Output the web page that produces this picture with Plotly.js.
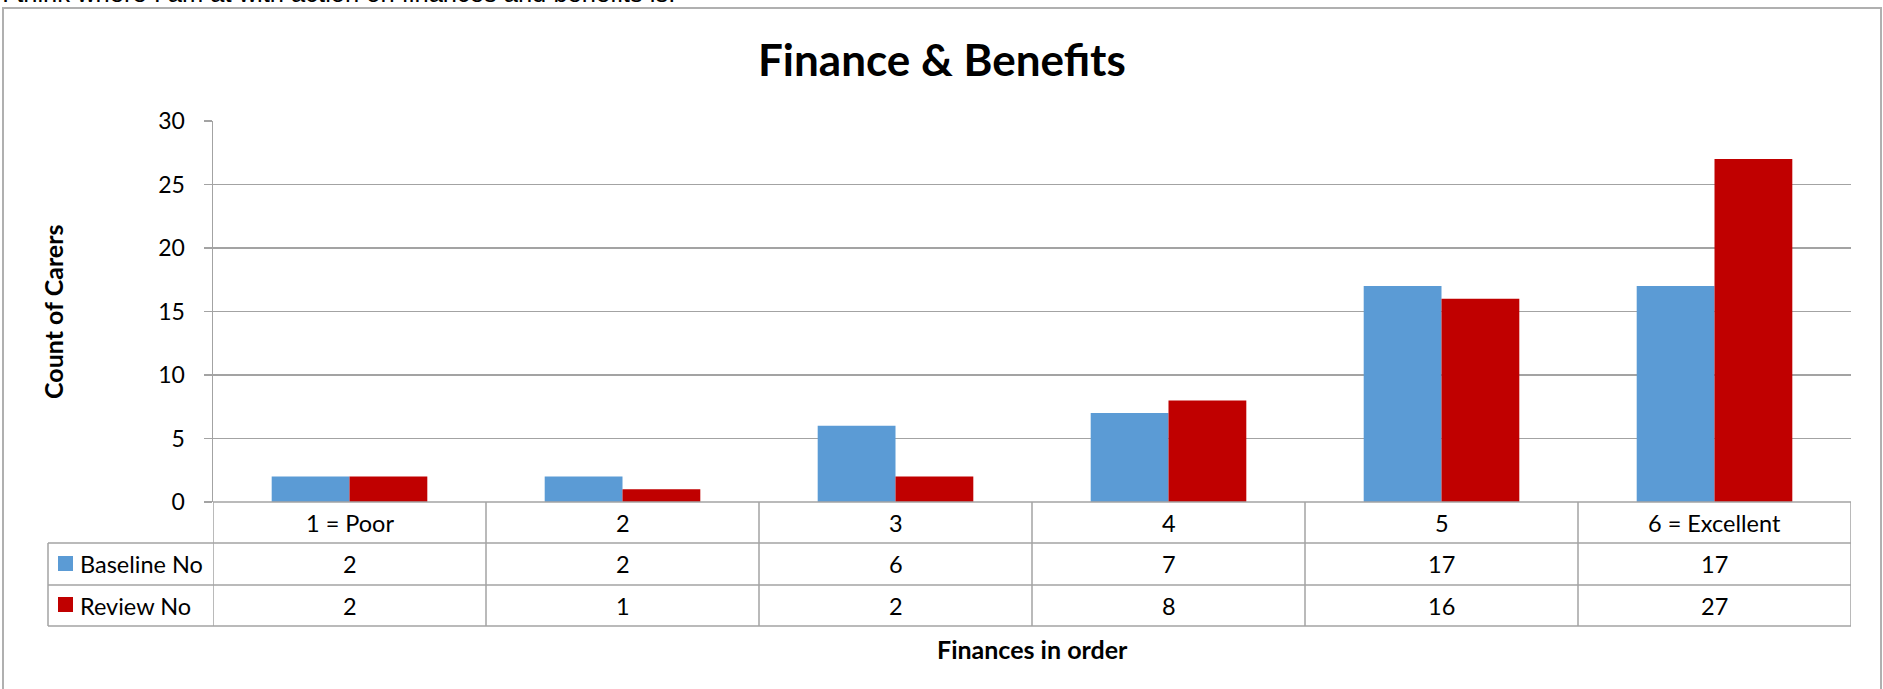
<!DOCTYPE html>
<html>
<head>
<meta charset="utf-8">
<script src="https://cdn.plot.ly/plotly-3.0.1.min.js"></script>
<style>html,body{margin:0;padding:0;background:#fff;}#chart{width:1883px;height:689px;}</style>
</head>
<body>
<div id="chart"></div>
<script>
// ---- data ----
const categories = ["1 = Poor", "2", "3", "4", "5", "6 = Excellent"];
const baselineNo = [2, 2, 6, 7, 17, 17];
const reviewNo = [2, 1, 2, 8, 16, 27];
const seriesNames = ["Baseline No", "Review No"];
const seriesColors = ["#5B9BD5", "#C00000"];
const yTicks = [0, 5, 10, 15, 20, 25, 30];

// ---- layout geometry (pixels) ----
const W = 1883, H = 689;
const PL = 213, PR = 1851, PT = 121, PB = 502;
const px2x = p => (p - PL) / (PR - PL);
const px2y = p => (PB - p) / (PB - PT);
const FONT = "Lato, 'Open Sans', sans-serif";
const lineCol = "#a3a3a3";

const rows = [PB, 543, 585, 626];
const shapes = [];
// outer frame
shapes.push({type:"rect", xref:"paper", yref:"paper", x0:px2x(3), x1:px2x(1881), y0:px2y(8), y1:px2y(740),
  line:{color:"#b0b0b0", width:2}, fillcolor:"rgba(0,0,0,0)", layer:"below"});
// table horizontal lines
shapes.push({type:"line", xref:"paper", yref:"paper", x0:0, x1:1, y0:px2y(PB), y1:px2y(PB), line:{color:lineCol, width:1.5}});
for (let i = 1; i < rows.length; i++) {
  shapes.push({type:"line", xref:"paper", yref:"paper", x0:px2x(48), x1:1, y0:px2y(rows[i]), y1:px2y(rows[i]), line:{color:lineCol, width:1.5}});
}
// legend column left edge
shapes.push({type:"line", xref:"paper", yref:"paper", x0:px2x(48), x1:px2x(48), y0:px2y(rows[1]), y1:px2y(rows[3]), line:{color:lineCol, width:1.5}});
// category column borders (through the category axis)
for (let i = 0; i <= categories.length; i++) {
  shapes.push({type:"line", xref:"x", yref:"paper", x0:i - 0.5, x1:i - 0.5, y0:px2y(PB), y1:px2y(rows[3]), line:{color:lineCol, width:1.5}});
}
// legend swatches
const swatchY = [[556, 571], [597, 612]];
seriesNames.forEach((n, i) => {
  shapes.push({type:"rect", xref:"paper", yref:"paper", x0:px2x(58), x1:px2x(73), y0:px2y(swatchY[i][0]), y1:px2y(swatchY[i][1]),
    line:{width:0}, fillcolor:seriesColors[i]});
});

const annotations = [];
const txt = (text, x, y, opts) => Object.assign({text, x, y, showarrow:false, xref:"paper", yref:"paper",
  xanchor:"center", yanchor:"middle", font:{family:FONT, size:23.5, color:"#000"}}, opts || {});
// category row and values
const rowCenters = [(rows[0] + rows[1]) / 2, (rows[1] + rows[2]) / 2, (rows[2] + rows[3]) / 2];
categories.forEach((c, i) => {
  annotations.push(txt(c, i, px2y(rowCenters[0]), {xref:"x"}));
  annotations.push(txt(String(baselineNo[i]), i, px2y(rowCenters[1]), {xref:"x"}));
  annotations.push(txt(String(reviewNo[i]), i, px2y(rowCenters[2]), {xref:"x"}));
});
// legend labels
seriesNames.forEach((n, i) => {
  annotations.push(txt(n, px2x(78), px2y(rowCenters[i + 1]), {xanchor:"left"}));
});
// y-axis title
annotations.push(txt("<b>Count of Carers</b>", px2x(53), px2y(312), {textangle:-90, font:{family:FONT, size:25, color:"#000"}}));
// x-axis title
annotations.push(txt("<b>Finances in order</b>", 0.5, px2y(649), {font:{family:FONT, size:25, color:"#000"}}));
// chart title
annotations.push(txt("<b>Finance &amp; Benefits</b>", px2x(942), px2y(59), {font:{family:FONT, size:44, color:"#000"}}));
// cropped text from the page above the chart
annotations.push(txt("I think where I am at with action on finances and benefits is:", px2x(0), px2y(9),
  {xanchor:"left", yanchor:"bottom", font:{family:"'Liberation Sans', Arial, sans-serif", size:25.5, color:"#000"}}));

const traces = [baselineNo, reviewNo].map((vals, i) => ({
  type:"bar", name:seriesNames[i], x:categories, y:vals, marker:{color:seriesColors[i]},
  hoverinfo:"skip"
}));

const layout = {
  width:W, height:H,
  margin:{l:PL, r:W - PR, t:PT, b:H - PB, pad:0},
  paper_bgcolor:"#fff", plot_bgcolor:"#fff",
  showlegend:false,
  barmode:"group", bargap:0.43, bargroupgap:0,
  xaxis:{type:"category", range:[-0.5, categories.length - 0.5], showticklabels:false, ticks:"",
    showgrid:false, zeroline:false, showline:false, fixedrange:true},
  yaxis:{range:[0, 30], tickvals:yTicks, ticks:"outside", ticklen:8, tickcolor:lineCol, tickwidth:1.5,
    showgrid:true, gridcolor:lineCol, gridwidth:1.5, zeroline:false,
    showline:true, linecolor:lineCol, linewidth:1.5, ticklabelstandoff:14,
    tickfont:{family:FONT, size:23, color:"#000"}, fixedrange:true},
  shapes, annotations
};

Plotly.newPlot("chart", traces, layout, {displayModeBar:false, staticPlot:true});
</script>
</body>
</html>
